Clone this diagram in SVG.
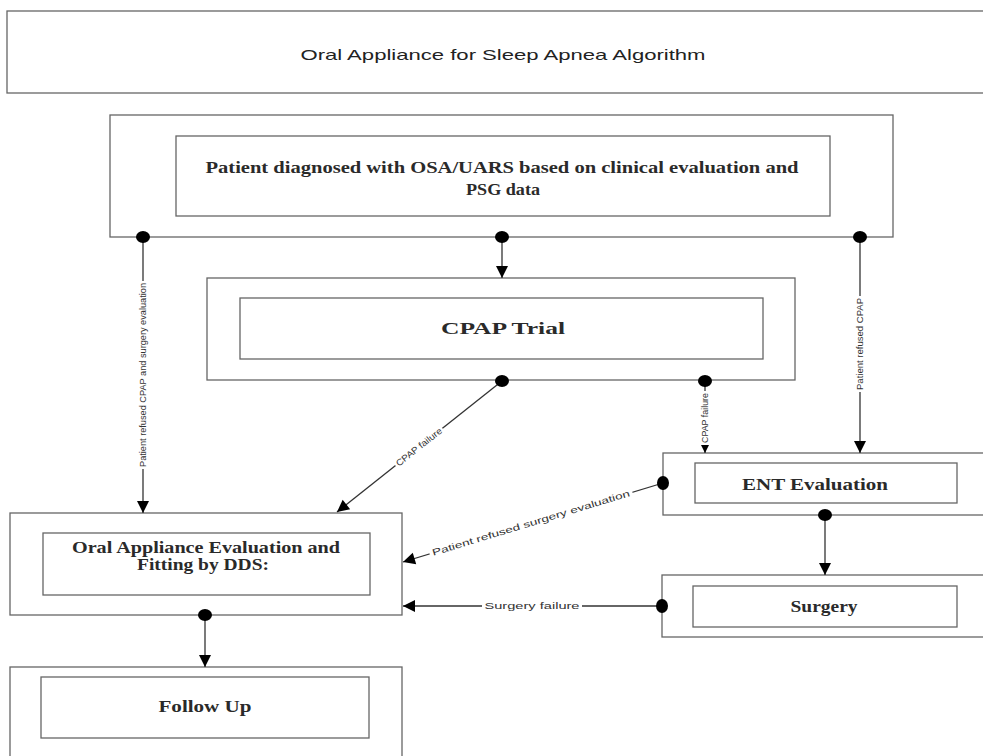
<svg xmlns="http://www.w3.org/2000/svg" width="983" height="756" viewBox="0 0 983 756">
<defs>
<style>
.box{fill:none;stroke:#666;stroke-width:1.3}
.inner{fill:none;stroke:#666;stroke-width:1.3}
.node{font-family:"Liberation Serif","Times New Roman",serif;font-weight:bold;font-size:16px;fill:#2a2a2a;text-anchor:middle}
.title{font-family:"Liberation Sans",Arial,sans-serif;font-size:15px;fill:#222;text-anchor:middle}
.conn{stroke:#333;stroke-width:1.3;fill:none}
.dot{fill:#000}
.lbl{font-family:"Liberation Sans",Arial,sans-serif;font-size:9px;fill:#333;text-anchor:middle;dominant-baseline:central}
.bg{fill:#fff}
</style>
<marker id="arr" markerUnits="userSpaceOnUse" markerWidth="14" markerHeight="14" viewBox="0 0 14 14" refX="13" refY="7" orient="auto">
<path d="M1,1 L13,7 L1,13 Z" fill="#000"/>
</marker>
</defs>
<rect width="983" height="756" fill="#fff"/>

<g id="title">
<rect class="box" x="7" y="11" width="990" height="82"/>
<text class="title" x="503" y="60" textLength="405" lengthAdjust="spacingAndGlyphs">Oral Appliance for Sleep Apnea Algorithm</text>
</g>

<g id="patient">
<rect class="box" x="110" y="115" width="783" height="122"/>
<rect class="inner" x="176" y="136" width="654" height="80"/>
<text class="node" x="502" y="173" textLength="593" lengthAdjust="spacingAndGlyphs">Patient diagnosed with OSA/UARS based on clinical evaluation and</text>
<text class="node" x="503" y="195" textLength="74" lengthAdjust="spacingAndGlyphs">PSG data</text>
</g>

<g id="cpap">
<rect class="box" x="207" y="278" width="588" height="102"/>
<rect class="inner" x="240" y="298" width="523" height="61"/>
<text class="node" x="503" y="334" textLength="124" lengthAdjust="spacingAndGlyphs">CPAP Trial</text>
</g>

<g id="ent">
<rect class="box" x="663" y="453" width="340" height="62"/>
<rect class="inner" x="695" y="463" width="262" height="40"/>
<text class="node" x="815" y="490" textLength="146" lengthAdjust="spacingAndGlyphs">ENT Evaluation</text>
</g>

<g id="surgery">
<rect class="box" x="662" y="575" width="340" height="62"/>
<rect class="inner" x="693" y="586" width="264" height="41"/>
<text class="node" x="824" y="612" textLength="67" lengthAdjust="spacingAndGlyphs">Surgery</text>
</g>

<g id="oral">
<rect class="box" x="10" y="513" width="392" height="102"/>
<rect class="inner" x="43" y="533" width="327" height="62"/>
<text class="node" x="206" y="553" textLength="268" lengthAdjust="spacingAndGlyphs">Oral Appliance Evaluation and</text>
<text class="node" x="203" y="570" textLength="132" lengthAdjust="spacingAndGlyphs">Fitting by DDS:</text>
</g>

<g id="followup">
<rect class="box" x="10" y="667" width="392" height="110"/>
<rect class="inner" x="41" y="677" width="328" height="61"/>
<text class="node" x="205" y="712" textLength="93" lengthAdjust="spacingAndGlyphs">Follow Up</text>
</g>

<g id="connectors">
<line class="conn" x1="143" y1="237" x2="143" y2="513" marker-end="url(#arr)"/>
<line class="conn" x1="502" y1="237" x2="502" y2="278" marker-end="url(#arr)"/>
<line class="conn" x1="860" y1="237" x2="860" y2="453" marker-end="url(#arr)"/>
<line class="conn" x1="705" y1="380" x2="705" y2="453" marker-end="url(#arr)"/>
<line class="conn" x1="502" y1="381" x2="337" y2="512" marker-end="url(#arr)"/>
<line class="conn" x1="663" y1="483" x2="403" y2="562" marker-end="url(#arr)"/>
<line class="conn" x1="825" y1="515" x2="825" y2="575" marker-end="url(#arr)"/>
<line class="conn" x1="662" y1="606" x2="403" y2="606" marker-end="url(#arr)"/>
<line class="conn" x1="205" y1="615" x2="205" y2="667" marker-end="url(#arr)"/>

<ellipse class="dot" cx="143" cy="237" rx="7" ry="6"/>
<ellipse class="dot" cx="502" cy="237" rx="7" ry="6"/>
<ellipse class="dot" cx="860" cy="237" rx="7" ry="6"/>
<ellipse class="dot" cx="502" cy="381" rx="7" ry="6"/>
<ellipse class="dot" cx="705" cy="381" rx="7" ry="6"/>
<ellipse class="dot" cx="663" cy="483" rx="6" ry="7"/>
<ellipse class="dot" cx="825" cy="515" rx="7" ry="6"/>
<ellipse class="dot" cx="662" cy="606" rx="6" ry="7"/>
<ellipse class="dot" cx="205" cy="615" rx="7" ry="6"/>

<g transform="translate(143,375) rotate(-90)">
<rect class="bg" x="-94" y="-6" width="188" height="12"/>
<text class="lbl" x="0" y="0" textLength="184" lengthAdjust="spacingAndGlyphs">Patient refused CPAP and surgery evaluation</text>
</g>
<g transform="translate(860,344) rotate(-90)">
<rect class="bg" x="-48" y="-6" width="96" height="12"/>
<text class="lbl" x="0" y="0" textLength="92" lengthAdjust="spacingAndGlyphs">Patient refused CPAP</text>
</g>
<g transform="translate(705,418) rotate(-90)">
<rect class="bg" x="-27" y="-6" width="54" height="12"/>
<text class="lbl" x="0" y="0" textLength="50" lengthAdjust="spacingAndGlyphs">CPAP failure</text>
</g>
<g transform="translate(419,447) rotate(-38.4)">
<rect class="bg" x="-30" y="-6" width="60" height="12"/>
<text class="lbl" x="0" y="0" textLength="56" lengthAdjust="spacingAndGlyphs">CPAP failure</text>
</g>
<g transform="translate(531,523) rotate(-16.9)">
<rect class="bg" x="-106" y="-6" width="212" height="12"/>
<text class="lbl" x="0" y="0" textLength="206" lengthAdjust="spacingAndGlyphs">Patient refused surgery evaluation</text>
</g>
<g transform="translate(532,606)">
<rect class="bg" x="-50" y="-6" width="100" height="12"/>
<text class="lbl" x="0" y="0" textLength="95" lengthAdjust="spacingAndGlyphs">Surgery failure</text>
</g>
</g>
</svg>
